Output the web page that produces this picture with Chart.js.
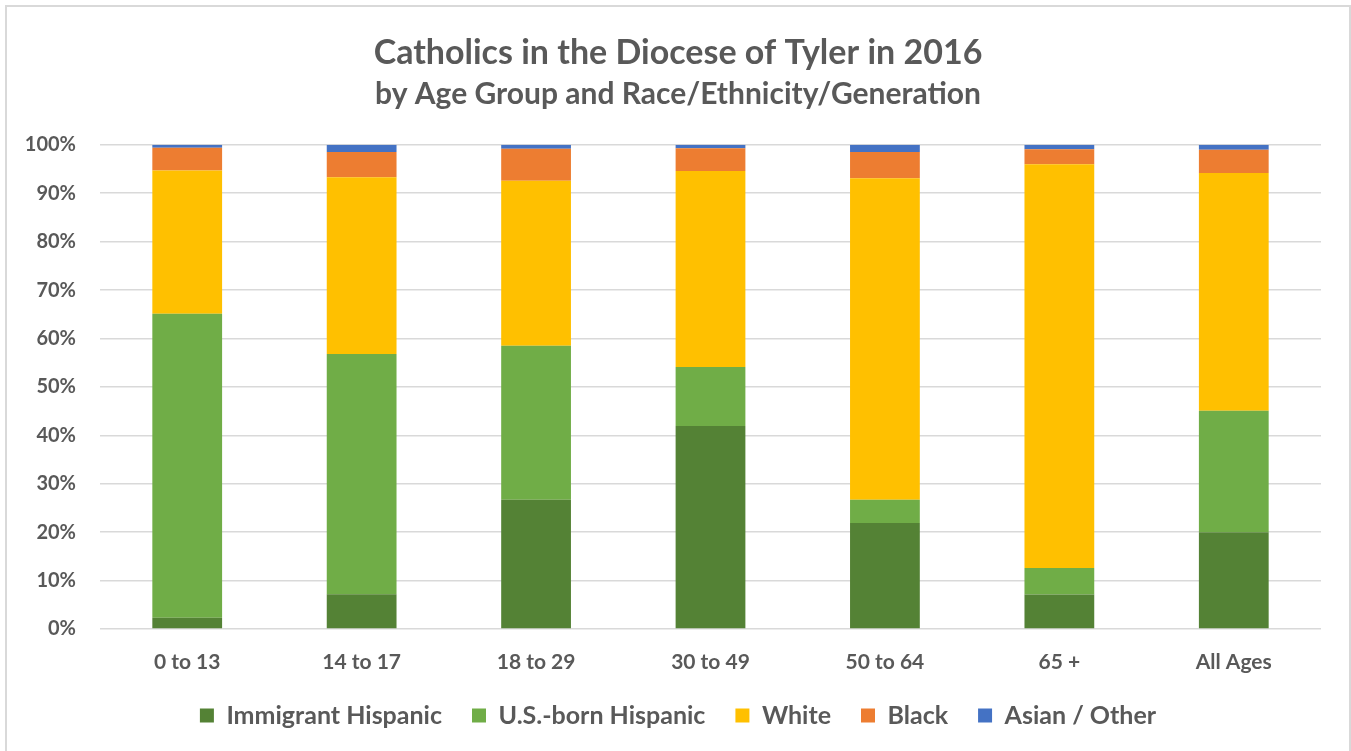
<!DOCTYPE html>
<html>
<head>
<meta charset="utf-8">
<script src="https://cdn.jsdelivr.net/npm/chart.js@4/dist/chart.umd.min.js"></script>
<style>
  html, body { margin: 0; padding: 0; background: #fff; overflow: hidden; }
  .frame { position: absolute; left: 5px; top: 5px; width: 1342px; height: 800px; border: 2px solid #d9d9d9; }
  .wrap { position: absolute; left: 0; top: 0; width: 1351px; height: 751px; }
</style>
</head>
<body>
<div class="frame"></div>
<div class="wrap"><canvas id="chart"></canvas></div>
<script>
const ageGroups = ["0 to 13", "14 to 17", "18 to 29", "30 to 49", "50 to 64", "65 +", "All Ages"];

// percent of Catholics in each age group
const immigrantHispanic = [2.3, 7.2, 26.7, 41.9, 21.9, 7.1, 20.0];
const usBornHispanic    = [62.8, 49.6, 31.8, 12.2, 4.8, 5.5, 25.1];
const white             = [29.6, 36.5, 34.1, 40.5, 66.4, 83.4, 49.1];
const black             = [4.7, 5.2, 6.6, 4.7, 5.4, 3.1, 4.8];
const asianOther        = [0.6, 1.5, 0.8, 0.7, 1.5, 0.9, 1.0];

const yTicks = [0, 10, 20, 30, 40, 50, 60, 70, 80, 90, 100];

const textColor = "#595959";
const fontFamily = "Lato, 'Open Sans', sans-serif";

function series(label, data, color) {
    return {
        label: label,
        data: data,
        backgroundColor: color,
        borderWidth: 0,
        barPercentage: 0.4,
        categoryPercentage: 1.0
    };
}

const ctx = document.getElementById("chart").getContext("2d");
const chart = new Chart(ctx, {
    type: 'bar',
    data: {
        labels: ageGroups,
        datasets: [
            series("Immigrant Hispanic", immigrantHispanic, "#548235"),
            series("U.S.-born Hispanic", usBornHispanic, "#70ad47"),
            series("White", white, "#ffc000"),
            series("Black", black, "#ed7d31"),
            series("Asian / Other", asianOther, "#4472c4")
        ]
    },
    options: {
        responsive: true,
        maintainAspectRatio: false,
        animation: false,
        layout: {
            padding: { left: 5, right: 0, top: 0, bottom: 13 }
        },
        plugins: {
            title: {
                display: true,
                text: "Catholics in the Diocese of Tyler in 2016",
                color: textColor,
                font: { family: fontFamily, size: 34, weight: 'bold' },
                padding: { top: 33, bottom: 2 }
            },
            subtitle: {
                display: true,
                text: "by Age Group and Race/Ethnicity/Generation",
                color: textColor,
                font: { family: fontFamily, size: 30, weight: 'bold' },
                padding: { top: 1, bottom: 32 }
            },
            legend: {
                position: 'bottom',
                labels: {
                    color: textColor,
                    font: { family: fontFamily, size: 25, weight: 'bold' },
                    boxWidth: 14,
                    boxHeight: 14,
                    padding: 30
                }
            },
            tooltip: { enabled: false }
        },
        scales: {
            x: {
                stacked: true,
                grid: { display: false },
                border: { display: false },
                ticks: {
                    color: textColor,
                    font: { family: fontFamily, size: 21, weight: 'bold' },
                    padding: 13
                },
                afterFit: function(scale) { scale.height = 44; }
            },
            y: {
                stacked: true,
                min: 0,
                max: 100,
                afterBuildTicks: function(scale) {
                    scale.ticks = yTicks.map(v => ({ value: v }));
                },
                grid: { color: "#d9d9d9", lineWidth: 1.5, drawTicks: false },
                border: { display: false },
                ticks: {
                    color: textColor,
                    font: { family: fontFamily, size: 20, weight: 'bold' },
                    padding: 24,
                    callback: v => v + "%"
                },
                afterFit: function(scale) { scale.width = 95; }
            },
            // empty axis that only keeps the gap on the right of the plot
            yRight: {
                position: 'right',
                display: true,
                grid: { display: false },
                border: { display: false },
                ticks: { display: false },
                afterFit: function(scale) { scale.width = 30; }
            }
        }
    }
});
</script>
</body>
</html>
